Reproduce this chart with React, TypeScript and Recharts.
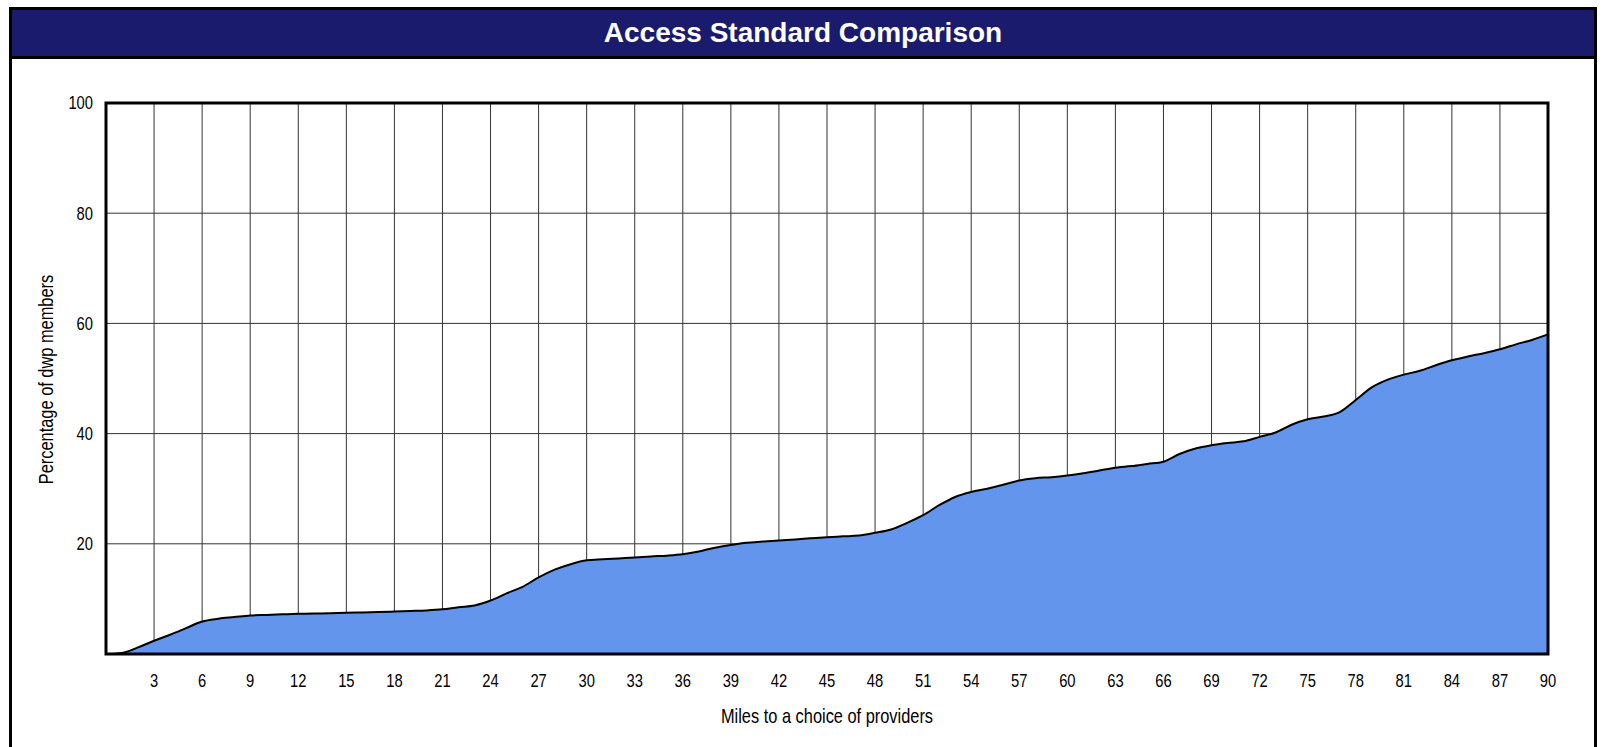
import React from "react";
import {
  AreaChart,
  Area,
  XAxis,
  YAxis,
  CartesianGrid,
  ReferenceArea,
  Label,
} from "recharts";

// Distance in miles to a choice of providers
const miles: number[] = [
  0, 1, 2, 3, 4, 5, 6, 7, 8, 9, 10, 11, 12, 13, 14, 15, 16, 17, 18, 19, 20,
  21, 22, 23, 24, 25, 26, 27, 28, 29, 30, 31, 32, 33, 34, 35, 36, 37, 38, 39,
  40, 41, 42, 43, 44, 45, 46, 47, 48, 49, 50, 51, 52, 53, 54, 55, 56, 57, 58,
  59, 60, 61, 62, 63, 64, 65, 66, 67, 68, 69, 70, 71, 72, 73, 74, 75, 76, 77,
  78, 79, 80, 81, 82, 83, 84, 85, 86, 87, 88, 89, 90,
];

// Cumulative percentage of dwp members within that distance
const pctMembers: number[] = [
  0, 0.2, 1.2, 2.4, 3.5, 4.7, 5.9, 6.4, 6.7, 7.0, 7.1, 7.2, 7.3, 7.35, 7.4,
  7.5, 7.55, 7.6, 7.7, 7.8, 7.9, 8.1, 8.5, 8.8, 9.7, 11.0, 12.2, 13.9, 15.3,
  16.3, 17.0, 17.2, 17.35, 17.5, 17.7, 17.85, 18.1, 18.6, 19.3, 19.8, 20.2,
  20.4, 20.6, 20.8, 21.0, 21.2, 21.35, 21.5, 22.0, 22.6, 23.8, 25.2, 27.0,
  28.5, 29.4, 30.0, 30.7, 31.5, 31.9, 32.1, 32.4, 32.8, 33.3, 33.8, 34.1,
  34.5, 34.9, 36.3, 37.3, 37.9, 38.3, 38.6, 39.4, 40.2, 41.6, 42.6, 43.1,
  43.9, 46.1, 48.4, 49.8, 50.7, 51.4, 52.4, 53.3, 54.0, 54.6, 55.3, 56.2,
  57.0, 58.0,
];

const xTicks: number[] = [
  3, 6, 9, 12, 15, 18, 21, 24, 27, 30, 33, 36, 39, 42, 45, 48, 51, 54, 57, 60,
  63, 66, 69, 72, 75, 78, 81, 84, 87, 90,
];
const yTicks: number[] = [20, 40, 60, 80, 100];

const chartTitle = "Access Standard Comparison";
const xTitle = "Miles to a choice of providers";
const yTitle = "Percentage of dwp members";

const data = miles.map((m, i) => ({ miles: m, pct: pctMembers[i] }));

const sansFont = "'Liberation Sans', Arial, sans-serif";
// horizontal squeeze to get a narrow sans look
const NARROW = 0.82;

const XTick = (props: any) => {
  const { x, y, payload } = props;
  return (
    <g transform={`translate(${x},${y}) scale(${NARROW},1)`}>
      <text x={0} y={0} dy="0.71em" textAnchor="middle" fill="#000" fontSize={18} fontFamily={sansFont}>
        {payload.value}
      </text>
    </g>
  );
};

const YTick = (props: any) => {
  const { x, y, payload } = props;
  return (
    <g transform={`translate(${x},${y}) scale(${NARROW},1)`}>
      <text x={0} y={0} dy="0.355em" textAnchor="end" fill="#000" fontSize={18} fontFamily={sansFont}>
        {payload.value}
      </text>
    </g>
  );
};

export default function App() {
  return (
    <div
      style={{
        position: "absolute",
        left: 0,
        top: 0,
        width: 1603,
        height: 747,
        overflow: "hidden",
        background: "#ffffff",
      }}
    >
      <div
        style={{
          position: "absolute",
          left: 9,
          top: 7,
          width: 1588,
          height: 760,
          boxSizing: "border-box",
          border: "3px solid #000",
          borderBottom: "none",
        }}
      >
        <div
          style={{
            height: 46,
            background: "#1b1b6e",
            borderBottom: "3px solid #000",
            color: "#fff",
            fontFamily: sansFont,
            fontWeight: "bold",
            fontSize: 28,
            lineHeight: "46px",
            textAlign: "center",
          }}
        >
          {chartTitle}
        </div>
      </div>
      <div style={{ position: "absolute", left: 0, top: 0 }}>
        <AreaChart
          width={1603}
          height={747}
          data={data}
          margin={{ top: 103, right: 55, bottom: 53, left: 36 }}
        >
          <CartesianGrid
            stroke="#333"
            strokeWidth={1}
            horizontalValues={yTicks}
            verticalValues={xTicks}
          />
          <XAxis
            dataKey="miles"
            type="number"
            domain={[0, 90]}
            ticks={xTicks}
            interval={0}
            height={40}
            axisLine={false}
            tickLine={false}
            tickSize={0}
            tickMargin={20}
            tick={<XTick />}
          >
            <Label
              content={(props: any) => {
                const vb = props.viewBox || { x: 106, y: 654, width: 1442, height: 40 };
                const cx = vb.x + vb.width / 2;
                const cy = vb.y + vb.height + 29;
                return (
                  <g transform={`translate(${cx},${cy}) scale(${NARROW},1)`}>
                    <text x={0} y={0} textAnchor="middle" fill="#000" fontSize={20} fontFamily={sansFont}>
                      {xTitle}
                    </text>
                  </g>
                );
              }}
            />
          </XAxis>
          <YAxis
            type="number"
            domain={[0, 100]}
            ticks={yTicks}
            interval={0}
            width={70}
            axisLine={false}
            tickLine={false}
            tickSize={0}
            tickMargin={13}
            tick={<YTick />}
          >
            <Label
              content={(props: any) => {
                const vb = props.viewBox || { x: 36, y: 103, width: 70, height: 551 };
                const cx = vb.x + 17;
                const cy = vb.y + vb.height / 2 + 1;
                return (
                  <g transform={`translate(${cx},${cy}) rotate(-90) scale(${NARROW},1)`}>
                    <text x={0} y={0} textAnchor="middle" fill="#000" fontSize={20} fontFamily={sansFont}>
                      {yTitle}
                    </text>
                  </g>
                );
              }}
            />
          </YAxis>
          <Area
            type="monotone"
            dataKey="pct"
            baseValue={0}
            stroke="#000"
            strokeWidth={2}
            fill="#6495ed"
            fillOpacity={1}
            isAnimationActive={false}
            dot={false}
            activeDot={false}
          />
          <ReferenceArea
            x1={0}
            x2={90}
            y1={0}
            y2={100}
            fill="none"
            stroke="#000"
            strokeWidth={3}
            ifOverflow="visible"
          />
        </AreaChart>
      </div>
    </div>
  );
}
